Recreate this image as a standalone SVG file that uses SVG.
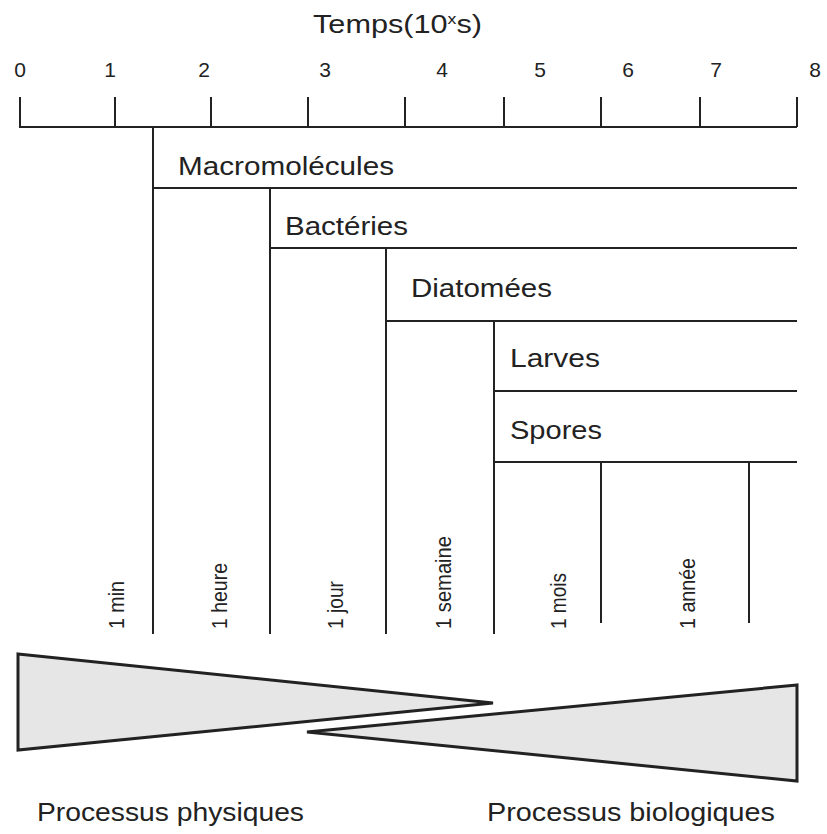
<svg xmlns="http://www.w3.org/2000/svg" width="827" height="834" viewBox="0 0 827 834">
<style>
  text { font-family: "Liberation Sans", Arial, sans-serif; fill: #222; }
  .lbl { font-size: 25px; }
  .num { font-size: 21px; text-anchor: middle; }
  .rot { font-size: 22px; }
  .ln { stroke: #222; stroke-width: 2; fill: none; }
  .tri { fill: #e6e6e6; stroke: #222; stroke-width: 3; stroke-linejoin: miter; }
</style>
<rect width="827" height="834" fill="#fff"/>

<g id="axis">
  <text x="313" y="33" font-size="26" textLength="169" lengthAdjust="spacingAndGlyphs">Temps(10<tspan font-size="15" dy="-9">x</tspan><tspan dy="9">s)</tspan></text>
  <text class="num" x="20" y="77">0</text>
  <text class="num" x="110" y="77">1</text>
  <text class="num" x="204" y="77">2</text>
  <text class="num" x="325" y="77">3</text>
  <text class="num" x="442" y="77">4</text>
  <text class="num" x="540" y="77">5</text>
  <text class="num" x="628" y="77">6</text>
  <text class="num" x="716" y="77">7</text>
  <text class="num" x="815" y="77">8</text>
  <path class="ln" d="M19,127 H797 M20,97 V127 M115,97 V127 M211,97 V127 M308,97 V127 M405,97 V127 M504,97 V127 M601,97 V127 M700,97 V127 M797,97 V127"/>
</g>

<g id="connectors">
  <path class="ln" d="M153,127 V634 M153,188 H797"/>
  <path class="ln" d="M270,188 V634 M270,248 H797"/>
  <path class="ln" d="M386,248 V634 M386,321 H797"/>
  <path class="ln" d="M494,321 V634 M494,391 H797 M494,462 H797"/>
  <path class="ln" d="M601,462 V623 M749,462 V623"/>
</g>

<g id="macromolecules"><text class="lbl" x="178" y="175" textLength="216" lengthAdjust="spacingAndGlyphs">Macromolécules</text></g>
<g id="bacteries"><text class="lbl" x="285" y="235" textLength="123" lengthAdjust="spacingAndGlyphs">Bactéries</text></g>
<g id="diatomees"><text class="lbl" x="411" y="297" textLength="141" lengthAdjust="spacingAndGlyphs">Diatomées</text></g>
<g id="larves"><text class="lbl" x="510" y="367" textLength="90" lengthAdjust="spacingAndGlyphs">Larves</text></g>
<g id="spores"><text class="lbl" x="510" y="439" textLength="92" lengthAdjust="spacingAndGlyphs">Spores</text></g>

<g id="durations">
  <text class="rot" transform="translate(124,629) rotate(-90)" textLength="48" lengthAdjust="spacingAndGlyphs">1 min</text>
  <text class="rot" transform="translate(227,629) rotate(-90)" textLength="66" lengthAdjust="spacingAndGlyphs">1 heure</text>
  <text class="rot" transform="translate(343,629) rotate(-90)" textLength="48" lengthAdjust="spacingAndGlyphs">1 jour</text>
  <text class="rot" transform="translate(451,629) rotate(-90)" textLength="93" lengthAdjust="spacingAndGlyphs">1 semaine</text>
  <text class="rot" transform="translate(566,629) rotate(-90)" textLength="56" lengthAdjust="spacingAndGlyphs">1 mois</text>
  <text class="rot" transform="translate(695,629) rotate(-90)" textLength="71" lengthAdjust="spacingAndGlyphs">1 année</text>
</g>

<g id="processus-physiques">
  <polygon class="tri" points="18,654 493,703 18,750"/>
  <text class="lbl" x="37" y="821" textLength="267" lengthAdjust="spacingAndGlyphs">Processus physiques</text>
</g>
<g id="processus-biologiques">
  <polygon class="tri" points="797,685 307,732 797,781"/>
  <text class="lbl" x="487" y="821" textLength="288" lengthAdjust="spacingAndGlyphs">Processus biologiques</text>
</g>
</svg>
